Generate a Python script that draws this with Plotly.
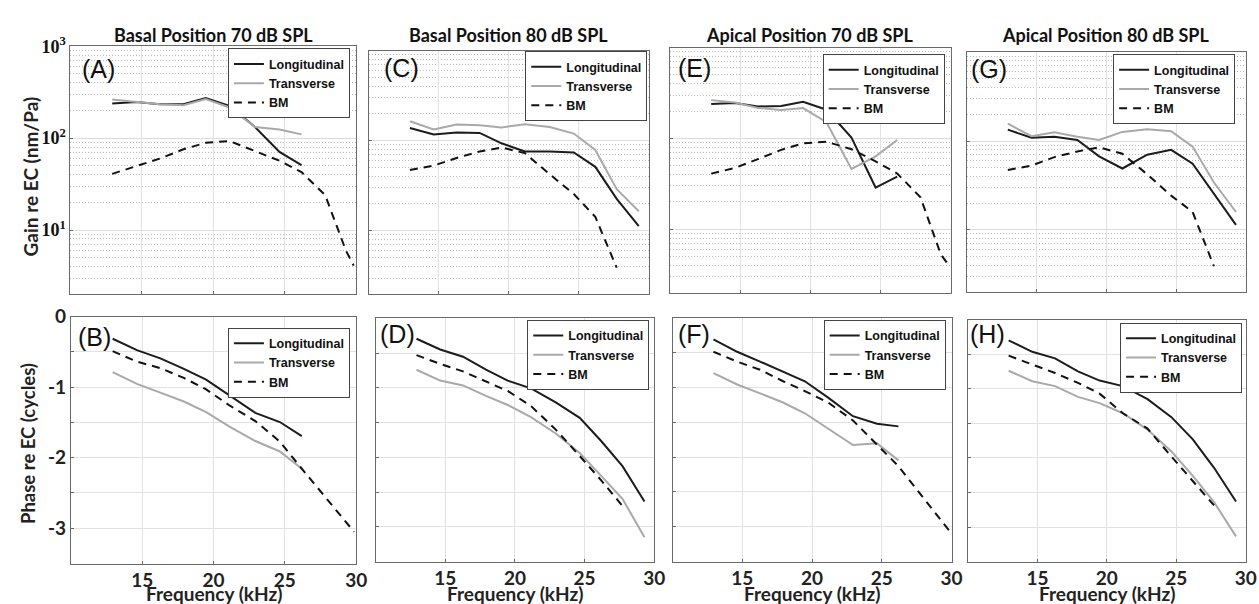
import numpy as np
import plotly.graph_objects as go

W, H = 1259, 604

# ---------------- data ----------------
freq_70 = [12.93, 14.63, 16.27, 17.92, 19.48, 21.15, 22.93, 24.65, 26.19]
freq_80 = [12.93, 14.63, 16.27, 17.92, 19.48, 21.15, 22.93, 24.65, 26.19, 27.72, 29.3]
freq_bm70 = [12.93, 14.63, 16.27, 17.92, 19.48, 21.15, 22.93, 24.65, 26.19, 27.85, 29.3, 29.85]
freq_bm80 = [12.93, 14.63, 16.27, 17.92, 19.48, 21.15, 22.93, 24.65, 26.19, 27.72]

# Gain (nm/Pa)
gain_A_long = [238, 248, 234, 234, 274, 225, 132, 71, 51]
gain_A_trans = [263, 248, 234, 229, 267, 216, 132, 124, 110]
gain_A_bm = [40.9, 49.4, 60, 75.7, 89, 93, 72.6, 56.8, 42.7, 24, 6.0, 4.1]

gain_C_long = [138, 117, 123, 122, 93.6, 75.9, 75.9, 74.1, 51.3, 22.6, 11.3]
gain_C_trans = [164, 133, 151, 148, 140, 152, 142, 120, 79, 29, 16.5]
gain_C_bm = [47.2, 53, 64.3, 75.9, 84, 72.8, 42.4, 25.6, 14.3, 3.9]

gain_E_long = [239, 245, 225, 227, 253, 207, 102, 28.8, 37.9]
gain_E_trans = [264, 249, 216, 206, 216, 151, 46.2, 63.4, 96]
gain_E_bm = [41, 47.4, 59.3, 74.8, 88.4, 92, 76, 56, 41.2, 22.5, 5.3, 4.06]

gain_G_long = [134.5, 108.8, 111.6, 102.6, 67.2, 49.1, 70.2, 79.6, 55.7, 25.4, 11.4]
gain_G_trans = [156.6, 113.5, 125.7, 111.6, 102.6, 126.8, 135.6, 128.9, 86.6, 34.1, 15.9]
gain_G_bm = [47.1, 53, 66, 76.3, 85.1, 71.9, 42.2, 24.3, 15.9, 3.9]

# Phase (cycles)
phase_B_long = [-0.315, -0.477, -0.593, -0.741, -0.894, -1.125, -1.366, -1.495, -1.694]
phase_B_trans = [-0.787, -0.954, -1.079, -1.204, -1.356, -1.565, -1.764, -1.912, -2.157]
phase_B_bm = [-0.491, -0.639, -0.731, -0.870, -1.032, -1.264, -1.481, -1.773, -2.157, -2.56, -2.92, -3.05]

phase_D_long = [-0.292, -0.447, -0.55, -0.738, -0.894, -1.007, -1.209, -1.43, -1.764, -2.126, -2.634]
phase_D_trans = [-0.738, -0.894, -0.964, -1.115, -1.246, -1.42, -1.656, -1.938, -2.267, -2.596, -3.151]
phase_D_bm = [-0.527, -0.654, -0.762, -0.903, -1.044, -1.26, -1.6, -1.98, -2.33, -2.7]

phase_F_long = [-0.31, -0.488, -0.629, -0.77, -0.911, -1.146, -1.413, -1.521, -1.559]
phase_F_trans = [-0.793, -0.958, -1.085, -1.216, -1.371, -1.592, -1.826, -1.803, -2.047]
phase_F_bm = [-0.488, -0.629, -0.746, -0.911, -1.052, -1.216, -1.474, -1.826, -2.131, -2.554, -2.93, -3.06]

phase_H_long = [-0.298, -0.464, -0.558, -0.747, -0.88, -0.96, -1.149, -1.41, -1.731, -2.143, -2.63]
phase_H_trans = [-0.738, -0.889, -0.96, -1.116, -1.206, -1.353, -1.589, -1.906, -2.261, -2.64, -3.136]
phase_H_bm = [-0.52, -0.653, -0.771, -0.913, -1.069, -1.353, -1.575, -1.98, -2.33, -2.687]

column_titles = ["Basal Position 70 dB SPL", "Basal Position 80 dB SPL",
                 "Apical Position 70 dB SPL", "Apical Position 80 dB SPL"]
series_names = ["Longitudinal", "Transverse", "BM"]
x_tick_vals = [15, 20, 25, 30]
gain_tick_vals = [10, 100, 1000]
gain_tick_text = ["10<sup>1</sup>", "10<sup>2</sup>", "10<sup>3</sup>"]
phase_tick_vals = [0, -0.5, -1, -1.5, -2, -2.5, -3, -3.5]
phase_tick_text = ["0", "", "-1", "", "-2", "", "-3", ""]

# ---------------- layout specs (pixels) ----------------
panels = [
    dict(label="(A)", kind="gain", f=(freq_70, freq_70, freq_bm70),
         y=(gain_A_long, gain_A_trans, gain_A_bm),
         xd=(71, 359), yd=(35, 288), leg=(353, 37), lab=(81, 58), ylab=True),
    dict(label="(B)", kind="phase", f=(freq_70, freq_70, freq_bm70),
         y=(phase_B_long, phase_B_trans, phase_B_bm),
         xd=(71.5, 359.3), yd=(310.7, 562.7), leg=(353, 322), lab=(77, 332), ylab=True),
    dict(label="(C)", kind="gain", f=(freq_80, freq_80, freq_bm80),
         y=(gain_C_long, gain_C_trans, gain_C_bm),
         xd=(372.2, 654.3), yd=(39.3, 287.6), leg=(653, 40), lab=(385, 57), ylab=False),
    dict(label="(D)", kind="phase", f=(freq_80, freq_80, freq_bm80),
         y=(phase_D_long, phase_D_trans, phase_D_bm),
         xd=(379, 660), yd=(312.7, 560.7), leg=(655, 314), lab=(381, 329), ylab=False),
    dict(label="(E)", kind="gain", f=(freq_70, freq_70, freq_bm70),
         y=(gain_E_long, gain_E_trans, gain_E_bm),
         xd=(676, 959), yd=(36.3, 286.5), leg=(953, 43), lab=(682, 57), ylab=False),
    dict(label="(F)", kind="phase", f=(freq_70, freq_70, freq_bm70),
         y=(phase_F_long, phase_F_trans, phase_F_bm),
         xd=(678.5, 960), yd=(312, 560.7), leg=(954, 314), lab=(682, 329), ylab=False),
    dict(label="(G)", kind="gain", f=(freq_80, freq_80, freq_bm80),
         y=(gain_G_long, gain_G_trans, gain_G_bm),
         xd=(975.5, 1256.7), yd=(41, 285.7), leg=(1246, 43), lab=(978, 58), ylab=False),
    dict(label="(H)", kind="phase", f=(freq_80, freq_80, freq_bm80),
         y=(phase_H_long, phase_H_trans, phase_H_bm),
         xd=(976.5, 1256.7), yd=(314, 560.7), leg=(1253, 317), lab=(977, 329), ylab=False),
]

styles = [dict(color="#1c1c1c", width=2),
          dict(color="#a9a9a9", width=2),
          dict(color="#111111", width=2, dash="8px,6px")]

SANS = "Lato"
LEG_FONT = dict(family="Liberation Sans, Arial", size=12.5, color="#111", weight="bold")

minor_log = [m * 10 ** k for k in range(0, 3) for m in range(2, 10)]

fig = go.Figure()
layout = dict(width=W, height=H, margin=dict(l=0, r=0, t=0, b=0),
              paper_bgcolor="white", plot_bgcolor="white", annotations=[])

def px(x):
    return x / W

def py(y):
    return 1 - y / H

for i, p in enumerate(panels, start=1):
    sfx = "" if i == 1 else str(i)
    legname = "legend" + sfx
    for j in range(3):
        fig.add_trace(go.Scatter(
            x=p["f"][j], y=p["y"][j], mode="lines", name=series_names[j],
            line=styles[j], xaxis="x" + sfx, yaxis="y" + sfx, legend=legname,
            showlegend=True, hoverinfo="skip"))
    bottom = p["kind"] == "phase"
    layout["xaxis" + sfx] = dict(
        domain=[px(p["xd"][0]), px(p["xd"][1])], range=[10, 30], anchor="y" + sfx,
        tickmode="array", tickvals=x_tick_vals, ticktext=[str(v) for v in x_tick_vals],
        showticklabels=bottom, showgrid=True, gridcolor="#e2e2e2", gridwidth=1,
        showline=True, linecolor="#6a6a6a", linewidth=1, mirror=True,
        ticks="inside", ticklen=3, tickcolor="#6a6a6a", zeroline=False,
        tickfont=dict(family=SANS, size=19, color="#222", weight="bold"))
    if p["kind"] == "gain":
        layout["yaxis" + sfx] = dict(
            domain=[py(p["yd"][1]), py(p["yd"][0])], type="log",
            range=[np.log10(2), 3], anchor="x" + sfx,
            tickmode="array", tickvals=gain_tick_vals, ticktext=gain_tick_text,
            showticklabels=p["ylab"], showgrid=True, gridcolor="#dcdcdc",
            minor=dict(tickmode="array", tickvals=minor_log, showgrid=True,
                       griddash="1px,2px", gridcolor="#bcbcbc", gridwidth=1, ticks=""),
            showline=True, linecolor="#6a6a6a", linewidth=1, mirror=True,
            ticks="inside", ticklen=3, tickcolor="#6a6a6a", zeroline=False,
            tickfont=dict(family="Liberation Serif", size=18, color="#111", weight="bold"))
    else:
        layout["yaxis" + sfx] = dict(
            domain=[py(p["yd"][1]), py(p["yd"][0])], range=[-3.5, 0], anchor="x" + sfx,
            tickmode="array", tickvals=phase_tick_vals, ticktext=phase_tick_text,
            showticklabels=p["ylab"], showgrid=True, gridcolor="#e2e2e2",
            showline=True, linecolor="#6a6a6a", linewidth=1, mirror=True,
            ticks="inside", ticklen=3, tickcolor="#6a6a6a", zeroline=False,
            tickfont=dict(family=SANS, size=19, color="#222", weight="bold"))
    layout[legname] = dict(
        x=px(p["leg"][0]), y=py(p["leg"][1]), xanchor="right", yanchor="top",
        xref="paper", yref="paper", bgcolor="white", bordercolor="#444",
        borderwidth=1, font=LEG_FONT, itemwidth=30, traceorder="normal",
        tracegroupgap=0)
    # panel label
    layout["annotations"].append(dict(
        text=p["label"], x=px(p["lab"][0]), y=py(p["lab"][1]), xref="paper", yref="paper",
        xanchor="left", yanchor="middle", showarrow=False,
        font=dict(family="Liberation Sans, Arial", size=25, color="#111")))
    if bottom:
        cx = (p["xd"][0] + p["xd"][1]) / 2
        layout["annotations"].append(dict(
            text="Frequency (kHz)", x=px(cx), y=py(593), xref="paper", yref="paper",
            xanchor="center", yanchor="middle", showarrow=False,
            font=dict(family=SANS, size=19, color="#222", weight="bold")))

# column titles
for k, t in enumerate(column_titles):
    p = panels[2 * k]
    cx = (p["xd"][0] + p["xd"][1]) / 2
    layout["annotations"].append(dict(
        text=t, x=px(cx), y=py(23), xref="paper", yref="paper",
        xanchor="center", yanchor="middle", showarrow=False,
        font=dict(family=SANS, size=18, color="#111", weight="bold")))

# y-axis titles
layout["annotations"].append(dict(
    text="Gain re EC (nm/Pa)", x=px(31), y=py(168), xref="paper", yref="paper",
    xanchor="center", yanchor="middle", textangle=-90, showarrow=False,
    font=dict(family=SANS, size=19, color="#222", weight="bold")))
layout["annotations"].append(dict(
    text="Phase re EC (cycles)", x=px(29), y=py(440), xref="paper", yref="paper",
    xanchor="center", yanchor="middle", textangle=-90, showarrow=False,
    font=dict(family=SANS, size=18.5, color="#222", weight="bold")))

fig.update_layout(**layout)
fig.write_html(
    "out.html",
    config={"displayModeBar": False},
    post_script="document.body.style.margin='0px';document.body.style.overflow='hidden';",
)
